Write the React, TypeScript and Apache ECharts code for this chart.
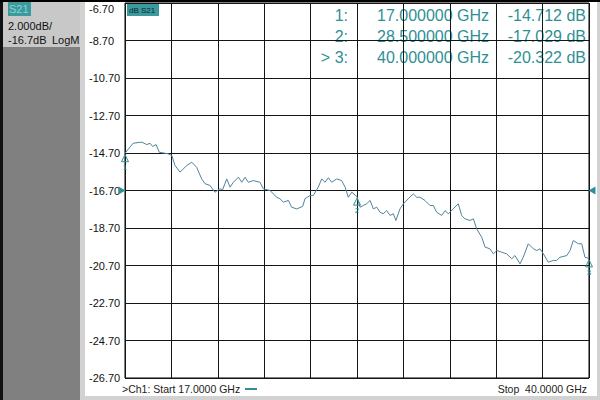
import React, { useEffect, useRef } from "react";
import * as echarts from "echarts";

const freqGHz = [
  17.0, 17.4, 17.83, 18.08, 18.24, 18.37, 18.54, 18.7, 19.13, 19.32, 19.48, 19.73, 20.06, 20.31, 20.55,
  20.8, 20.97, 21.21, 21.46, 21.71, 21.84, 22.04, 22.21, 22.37, 22.62, 22.79, 22.95, 23.11, 23.36, 23.69,
  23.86, 24.19, 24.52, 24.68, 24.85, 25.1, 25.26, 25.51, 25.81, 25.92, 26.17, 26.33, 26.58, 26.75, 26.91,
  27.08, 27.25, 27.49, 27.74, 27.91, 28.07, 28.24, 28.5, 28.65, 28.81, 28.98, 29.15, 29.31, 29.48, 29.64,
  29.8, 29.97, 30.14, 30.3, 30.43, 30.63, 30.8, 31.04, 31.29, 31.46, 31.62, 31.87, 32.12, 32.28, 32.45,
  32.7, 32.86, 33.03, 33.27, 33.52, 33.69, 33.85, 34.1, 34.27, 34.43, 34.68, 34.85, 35.09, 35.26, 35.43,
  35.67, 35.92, 36.17, 36.33, 36.58, 36.74, 36.99, 37.24, 37.41, 37.57, 37.74, 37.98, 38.23, 38.4, 38.56,
  38.9, 39.06, 39.22, 39.47, 39.64, 39.8, 40.0,
];
const s21dB = [
  -14.712, -14.18, -14.12, -14.25, -14.18, -14.35, -14.25, -14.66, -14.74, -14.83, -15.37, -15.72, -15.37, -15.19, -15.46,
  -16.08, -16.34, -16.43, -16.79, -16.61, -16.66, -16.08, -16.52, -16.26, -15.99, -16.26, -15.99, -16.26, -16.17, -16.26,
  -16.61, -16.7, -17.06, -17.14, -17.32, -17.23, -17.59, -17.68, -17.55, -17.14, -16.97, -16.97, -16.52, -16.08, -16.26,
  -16.02, -16.26, -16.08, -16.17, -16.52, -17.06, -16.79, -17.029, -17.59, -17.5, -17.41, -17.23, -17.68, -17.59, -17.86,
  -17.94, -17.77, -18.03, -17.94, -18.3, -17.68, -17.41, -17.14, -16.88, -17.06, -17.06, -17.23, -17.5, -17.5, -17.86,
  -18.03, -17.77, -17.94, -17.68, -17.41, -18.03, -18.21, -18.3, -18.21, -18.74, -19.19, -19.72, -19.81, -20.08, -19.9,
  -19.99, -20.08, -20.34, -20.17, -20.61, -20.26, -19.54, -19.81, -19.9, -19.81, -20.08, -20.52, -20.43, -20.43, -20.26,
  -20.17, -19.9, -19.37, -19.54, -19.54, -20.26, -20.322,
];
const yTickLabels = [
  "-26.70", "-24.70", "-22.70", "-20.70", "-18.70", "-16.70", "-14.70", "-12.70", "-10.70", "-8.70", "-6.70",
];
const markerNames = ["1", "2", "3"];
const markerFreq = [17.0, 28.5, 40.0];
const markerVal = [-14.712, -17.029, -20.322];
const refLevel = -16.7;
const startGHz = 17;
const stopGHz = 40;

const TEAL = "#2f8f96";
const TRACE = "#50849c";
const GRID = "#151515";
const FONT = "Liberation Sans, Arial, sans-serif";

export default function App() {
  const ref = useRef<HTMLDivElement>(null);
  useEffect(() => {
    if (!ref.current) return;
    const chart = echarts.init(ref.current, null, { renderer: "svg" });

    const rowY = [15, 36, 57];
    const readout: any[] = [];
    markerNames.forEach((n, i) => {
      const prefix = i === markerNames.length - 1 ? "> " : "";
      readout.push(
        { type: "text", x: 348, y: rowY[i], style: { text: `${prefix}${n}:`, fill: TEAL, font: `16px ${FONT}`, align: "right", verticalAlign: "middle" } },
        { type: "text", x: 377, y: rowY[i], style: { text: `${markerFreq[i].toFixed(6)} GHz`, fill: TEAL, font: `16px ${FONT}`, align: "left", verticalAlign: "middle" } },
        { type: "text", x: 586, y: rowY[i], style: { text: `${markerVal[i].toFixed(3)} dB`, fill: TEAL, font: `16px ${FONT}`, align: "right", verticalAlign: "middle" } }
      );
    });

    const option: any = {
      animation: false,
      backgroundColor: "#ffffff",
      grid: { left: 125, right: 11, top: 3, bottom: 22, show: true, borderColor: "#000", borderWidth: 1, backgroundColor: "#fff" },
      xAxis: [
        { type: "value", min: startGHz, max: stopGHz, show: false },
        {
          type: "value", min: 0, max: 10, interval: 1, position: "bottom",
          axisLine: { show: false }, axisTick: { show: false }, axisLabel: { show: false },
          splitLine: { show: true, lineStyle: { color: GRID, width: 1 } },
        },
      ],
      yAxis: [
        { type: "value", min: -26.7, max: -6.7, show: false },
        {
          type: "value", min: 0, max: 10, interval: 1, position: "left",
          axisLine: { show: false }, axisTick: { show: false },
          axisLabel: {
            show: true, align: "left", margin: 36, color: "#111", fontSize: 11, fontFamily: FONT,
            verticalAlignMaxLabel: "top",
            formatter: (v: number) => yTickLabels[Math.round(v)],
          },
          splitLine: { show: true, lineStyle: { color: GRID, width: 1 } },
        },
      ],
      series: [
        {
          type: "line", xAxisIndex: 0, yAxisIndex: 0, clip: false,
          data: freqGHz.map((f, i) => [f, s21dB[i]]),
          showSymbol: false, symbol: "none",
          lineStyle: { color: TRACE, width: 1 },
          markPoint: {
            silent: true,
            data: [
              ...markerNames.map((n, i) => ({
                coord: [markerFreq[i], markerVal[i]],
                symbol: "path://M5,0 L10,9 L0,9 Z",
                symbolSize: [7, 7],
                symbolOffset: [0, 5],
                itemStyle: { color: "rgba(255,255,255,0)", borderColor: TEAL, borderWidth: 1 },
                label: { show: true, formatter: n, position: "bottom", distance: 1, color: TEAL, fontSize: 8, fontFamily: FONT },
              })),
              {
                coord: [startGHz, refLevel], symbol: "triangle", symbolSize: [8, 7], symbolRotate: -90,
                symbolOffset: [-3, 0], itemStyle: { color: TEAL }, label: { show: false },
              },
              {
                coord: [stopGHz, refLevel], symbol: "triangle", symbolSize: [8, 7], symbolRotate: 90,
                symbolOffset: [3, 0], itemStyle: { color: TEAL }, label: { show: false },
              },
            ],
          },
        },
      ],
      graphic: [
        { type: "rect", z: -10, shape: { x: 0, y: 0, width: 3, height: 400 }, style: { fill: "#111" } },
        { type: "rect", z: -10, shape: { x: 3, y: 0, width: 77, height: 400 }, style: { fill: "#808080" } },
        { type: "rect", z: -10, shape: { x: 80, y: 0, width: 5, height: 400 }, style: { fill: "#d2d2d2" } },
        { type: "rect", z: -9, shape: { x: 3, y: 0, width: 77, height: 47 }, style: { fill: "#c8c8c8" } },
        { type: "rect", z: -9, shape: { x: 8, y: 2, width: 23, height: 14 }, style: { fill: "#3a9a9c" } },
        { type: "text", x: 9, y: 9, style: { text: "S21", fill: "#8fd0d4", font: `11px ${FONT}`, verticalAlign: "middle" } },
        { type: "text", x: 8, y: 26, style: { text: "2.000dB/", fill: "#111", font: `11px ${FONT}`, verticalAlign: "middle" } },
        { type: "text", x: 8, y: 40, style: { text: "-16.7dB", fill: "#111", font: `11px ${FONT}`, verticalAlign: "middle" } },
        { type: "text", x: 52, y: 40, style: { text: "LogM", fill: "#111", font: `11px ${FONT}`, verticalAlign: "middle" } },
        { type: "rect", z: 10, shape: { x: 0, y: 0, width: 600, height: 2 }, style: { fill: "#000" } },
        { type: "rect", z: -9, shape: { x: 85, y: 396, width: 515, height: 4 }, style: { fill: "#d2d2d2" } },
        { type: "rect", z: -9, shape: { x: 597, y: 0, width: 3, height: 400 }, style: { fill: "#d2d2d2" } },
        { type: "rect", z: 5, shape: { x: 127, y: 4, width: 32, height: 12 }, style: { fill: "#3a9a9c" } },
        { type: "text", z: 6, x: 129, y: 10, style: { text: "dB S21", fill: "#123", font: `8px ${FONT}`, verticalAlign: "middle" } },
        ...readout,
        { type: "text", x: 122, y: 389, style: { text: `>Ch1: Start ${startGHz.toFixed(4)} GHz`, fill: "#222", font: `10.5px ${FONT}`, verticalAlign: "middle" } },
        { type: "rect", shape: { x: 245, y: 388, width: 12, height: 2 }, style: { fill: TEAL } },
        { type: "text", x: 587, y: 389, style: { text: `Stop  ${stopGHz.toFixed(4)} GHz`, fill: "#222", font: `10.5px ${FONT}`, align: "right", verticalAlign: "middle" } },
      ],
    };
    chart.setOption(option);
    return () => chart.dispose();
  }, []);
  return <div ref={ref} style={{ position: "fixed", left: 0, top: 0, width: 600, height: 400 }} />;
}
